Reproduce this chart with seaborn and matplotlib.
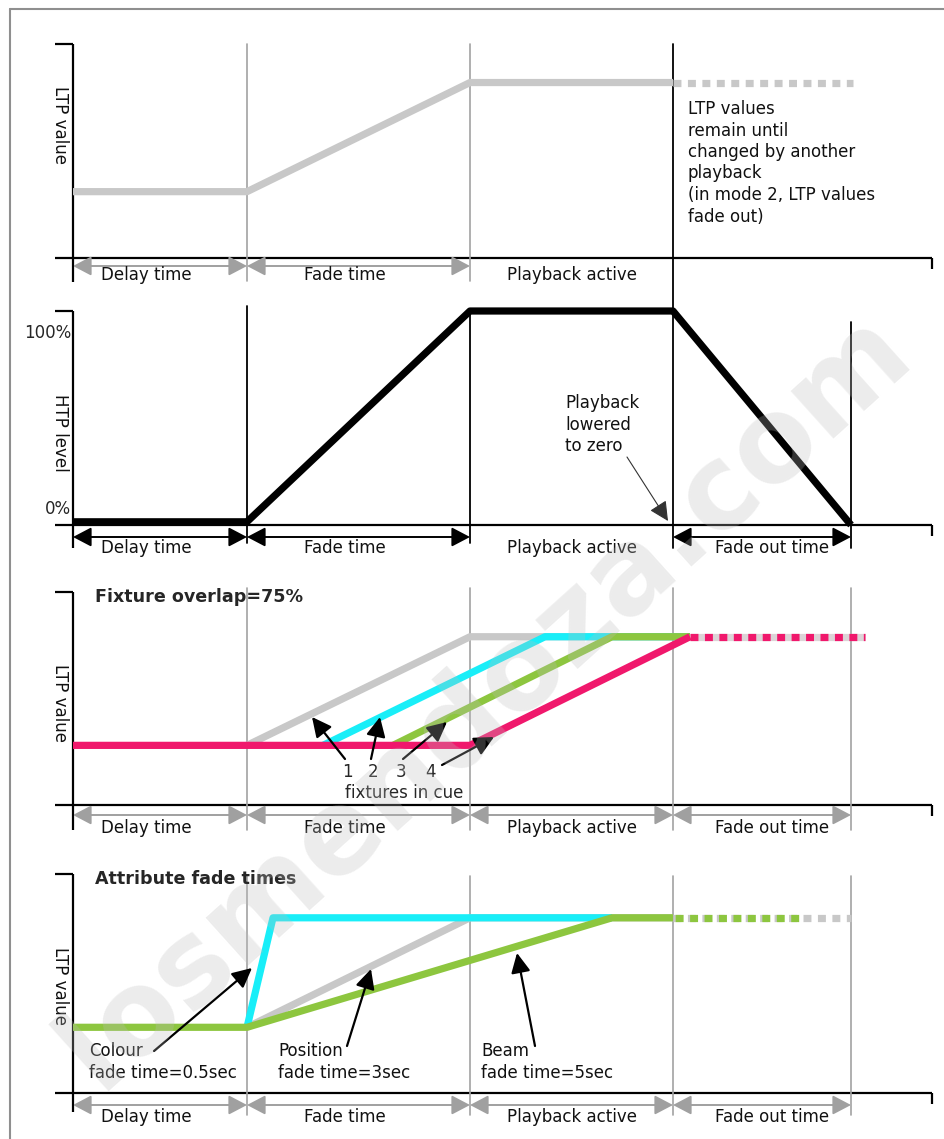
import numpy as np
import pandas as pd
import matplotlib.pyplot as plt
import seaborn as sns
from matplotlib.lines import Line2D

# time axis (arbitrary units, 0 = y axis) and the four playback phases
phase_names = ["Delay time", "Fade time", "Playback active", "Fade out time"]
phase_edges = [0, 174, 397, 600, 778]
phase_label_t = [73, 272, 499, 699]
axis_end = 859

# panel 1 - LTP channel
ltp_t = [0, 174, 397, 600]
ltp_v = [31, 31, 82, 82]
ltp_hold_t = [600, 780]

# panel 2 - HTP channel
htp_t = [0, 174, 397, 600, 778]
htp_v = [1.5, 1.5, 100, 100, 0]

# panel 3 - fixture overlap 75%
fix_labels = ["1", "2", "3", "4"]
fix_start = [174, 250, 320, 397]
fix_end = [397, 472, 539, 617]
fix_low = 28
fix_high = 79
fix_colors = ["#c8c8c8", "#19eef8", "#8dc63f", "#f0186c"]
fix_hold_t = [617, 792]

# panel 4 - attribute fade times
pos_t = [174, 397, 600]
pos_v = [30, 80, 80]
col_t = [174, 200, 539]
col_v = [30, 80, 80]
beam_t = [0, 174, 539, 600]
beam_v = [30, 30, 80, 80]
pos_hold_t = [600, 778]
beam_hold_t = [600, 727]

sns.set_theme(style="white")
plt.rcParams['font.family'] = ['DejaVu Sans']

W, H = 945, 1139
fig = plt.figure(figsize=(W / 100, H / 100), dpi=100)
fig.patch.set_facecolor('white')

panels = [(44, 258), (311, 525), (592, 805), (874, 1093)]
yaxis_bottom = [282, 548, 830, 1112]

axes = []
for top, bot in panels:
    ax = fig.add_axes([73 / W, 1 - bot / H, (932 - 73) / W, (bot - top) / H])
    ax.set_axis_off()
    axes.append(ax)


def yv(i, py):
    top, bot = panels[i]
    return (bot - py) / (bot - top) * 100


def tx(px):
    return px - 73


def line(ax, x, y, color, lw=5.2, **kw):
    sns.lineplot(x=x, y=y, ax=ax, color=color, linewidth=lw, estimator=None,
                 sort=False, errorbar=None, clip_on=False,
                 solid_capstyle='butt', dash_capstyle='butt', **kw)


def span_arrow(ax, t0, t1, y, color):
    ax.annotate("", xy=(t1, y), xytext=(t0, y),
                arrowprops=dict(arrowstyle="<|-|>,head_length=0.8,head_width=0.42",
                                mutation_scale=14, color=color, lw=1.4,
                                shrinkA=0, shrinkB=0),
                annotation_clip=False)


def pointer(ax, p0, p1, color='black', lw=1.6):
    ax.annotate("", xy=p1, xytext=p0,
                arrowprops=dict(arrowstyle="-|>,head_length=0.85,head_width=0.42",
                                mutation_scale=14, color=color, lw=lw,
                                shrinkA=0, shrinkB=0),
                annotation_clip=False)


FS = 12
grey_div = '#a2a2a2'
grey_arrow = '#a0a0a0'

# axis frames
for i, ax in enumerate(axes):
    top, bot = panels[i]
    k = dict(color='black', lw=1.6, clip_on=False, solid_capstyle='butt')
    ax.plot([-18, axis_end], [0, 0], **k)
    ax.plot([axis_end, axis_end], [0, yv(i, bot + 11)], **k)
    ax.plot([0, 0], [100, yv(i, yaxis_bottom[i])], **k)
    ax.plot([-18, 0], [100, 100], **k)

# phase dividers
for t in phase_edges[1:3]:
    axes[0].plot([t, t], [yv(0, 44), yv(0, 281)], color=grey_div, lw=1.2, clip_on=False)
axes[0].plot([600, 600], [yv(0, 44), yv(0, 548)], color='black', lw=1.3, clip_on=False)
for t, top, bot in [(174, 306, 543), (397, 311, 543), (778, 322, 548)]:
    axes[1].plot([t, t], [yv(1, top), yv(1, bot)], color='black', lw=1.3, clip_on=False)
for t in phase_edges[1:]:
    axes[2].plot([t, t], [yv(2, 588), yv(2, 830)], color=grey_div, lw=1.2, clip_on=False)
    axes[3].plot([t, t], [yv(3, 876), yv(3, 1115)], color=grey_div, lw=1.2, clip_on=False)

# phase arrows and labels under each axis
rows = [(266, 275, [0, 1], [0, 1, 2], grey_arrow),
        (537, 548, [0, 1, 3], [0, 1, 2, 3], 'black'),
        (815, 828, [0, 1, 2, 3], [0, 1, 2, 3], grey_arrow),
        (1105, 1117, [0, 1, 2, 3], [0, 1, 2, 3], grey_arrow)]
for i, (ay, ly, arr, labs, c) in enumerate(rows):
    ax = axes[i]
    for j in arr:
        span_arrow(ax, phase_edges[j], phase_edges[j + 1], yv(i, ay), c)
    for j in labs:
        ax.text(phase_label_t[j], yv(i, ly), phase_names[j], ha='center', va='center',
                fontsize=FS, color='#111111', clip_on=False)

# y axis labels
ylabels = [("LTP value", 125), ("HTP level", 433), ("LTP value", 703), ("LTP value", 986)]
for i, (lab, py) in enumerate(ylabels):
    axes[i].text(tx(60), yv(i, py), lab, rotation=270, ha='center', va='center',
                 fontsize=FS, color='#111111', clip_on=False)

# panel 1
ax = axes[0]
line(ax, ltp_t, ltp_v, '#c8c8c8')
line(ax, ltp_hold_t, [ltp_v[-1]] * 2, '#c8c8c8', linestyle=(0, (1.1, 0.9)))
ax.text(tx(688), yv(0, 100),
        "LTP values\nremain until\nchanged by another\nplayback\n(in mode 2, LTP values\nfade out)",
        ha='left', va='top', fontsize=FS, linespacing=1.25, color='#111111')

# panel 2
ax = axes[1]
line(ax, htp_t, htp_v, 'black')
ax.text(tx(71), yv(1, 333), "100%", ha='right', va='center', fontsize=FS, clip_on=False)
ax.text(tx(71), yv(1, 509), "0%", ha='right', va='center', fontsize=FS, clip_on=False)
ax.text(tx(565), yv(1, 394), "Playback\nlowered\nto zero", ha='left', va='top',
        fontsize=FS, linespacing=1.25, color='#111111')
pointer(ax, (tx(627), yv(1, 457)), (tx(668), yv(1, 521)), color='#333333', lw=0.8)

# panel 3
ax = axes[2]
line(ax, fix_hold_t, [fix_high] * 2, '#dcd4d7')
line(ax, fix_hold_t, [fix_high] * 2, fix_colors[3], linestyle=(0, (1.1, 0.9)))
for s, e, c in zip(fix_start[:3], fix_end[:3], fix_colors[:3]):
    line(ax, [s, e, fix_end[3]], [fix_low, fix_high, fix_high], c)
line(ax, [0, fix_start[3], fix_end[3]], [fix_low, fix_low, fix_high], fix_colors[3])
ax.text(tx(95), yv(2, 597), "Fixture overlap=75%", ha='left', va='center',
        fontsize=12.6, fontweight='bold')
num_x = [347, 373, 401, 431]
for lab, px in zip(fix_labels, num_x):
    ax.text(tx(px), yv(2, 772), lab, ha='center', va='center', fontsize=FS)
ax.text(tx(404), yv(2, 793), "fixtures in cue", ha='center', va='center', fontsize=FS)
for p0, p1 in [((345, 759), (312, 717)), ((371, 759), (380, 717)),
               ((403, 759), (447, 722)), ((442, 765), (494, 737))]:
    pointer(ax, (tx(p0[0]), yv(2, p0[1])), (tx(p1[0]), yv(2, p1[1])))

# panel 4
ax = axes[3]
line(ax, pos_hold_t, [pos_v[-1]] * 2, '#c8c8c8', linestyle=(0, (1.1, 0.9)))
line(ax, beam_hold_t, [beam_v[-1]] * 2, '#8dc63f', linestyle=(5.7, (1.1, 0.9)))
line(ax, pos_t, pos_v, '#c8c8c8')
line(ax, col_t, col_v, '#19eef8')
line(ax, beam_t, beam_v, '#8dc63f')
ax.text(tx(95), yv(3, 879), "Attribute fade times", ha='left', va='center',
        fontsize=12.6, fontweight='bold')
for px, txt in [(89, "Colour\nfade time=0.5sec"), (278, "Position\nfade time=3sec"),
                (481, "Beam\nfade time=5sec")]:
    ax.text(tx(px), yv(3, 1042), txt, ha='left', va='top', fontsize=FS,
            linespacing=1.3, color='#111111')
for p0, p1 in [((154, 1051), (252, 968)), ((347, 1046), (371, 969)),
               ((535, 1046), (517, 953))]:
    pointer(ax, (tx(p0[0]), yv(3, p0[1])), (tx(p1[0]), yv(3, p1[1])))

for ax in axes:
    ax.set_xlim(0, axis_end)
    ax.set_ylim(0, 100)

# outer frame (left and top edges)
fig.add_artist(Line2D([10 / W, 10 / W], [0, 1 - 9 / H], color='#8f8f8f', lw=1.5,
                      transform=fig.transFigure))
fig.add_artist(Line2D([10 / W, 1], [1 - 9 / H, 1 - 9 / H], color='#8f8f8f', lw=1.5,
                      transform=fig.transFigure))

# watermark
fig.text(485 / W, 1 - 700 / H, "losmendoza.com", rotation=42, fontsize=84,
         fontweight='bold', color='#bdbdbd', alpha=0.28, ha='center', va='center',
         rotation_mode='anchor', zorder=20)

fig.savefig("out.png", dpi=100)
